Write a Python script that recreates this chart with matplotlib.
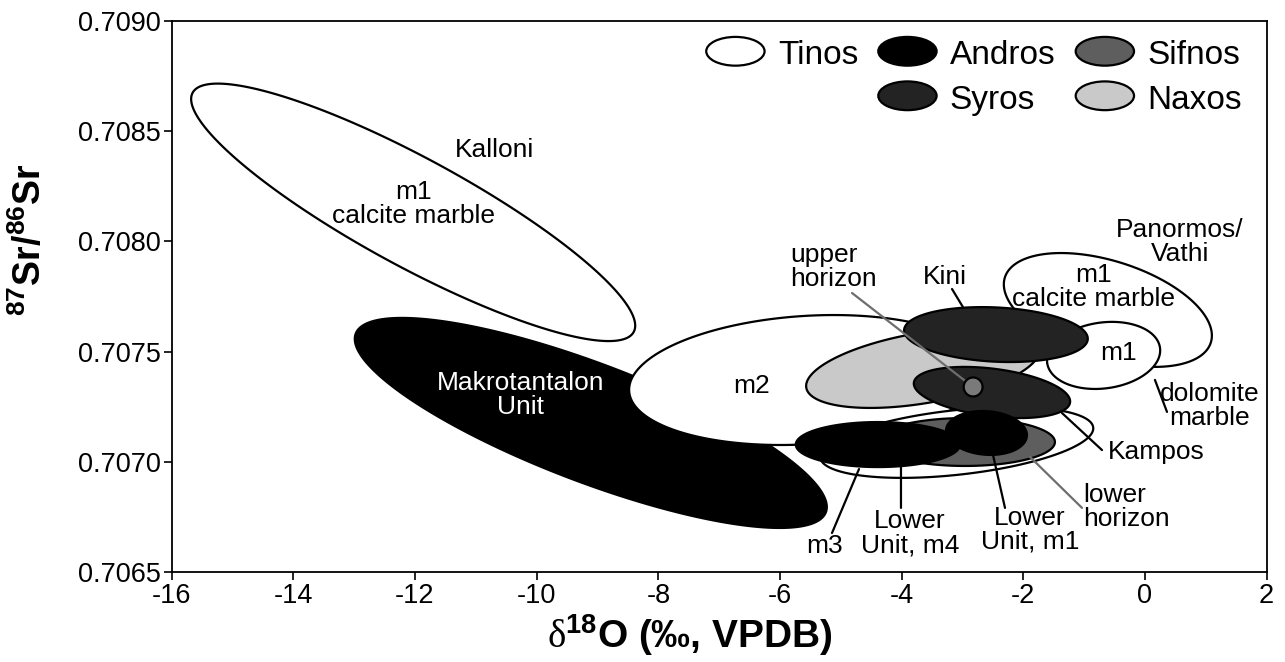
import numpy as np
import matplotlib.pyplot as plt
from matplotlib.patches import Patch, Ellipse
from matplotlib.legend_handler import HandlerPatch

plt.rcParams['font.family'] = ['Liberation Sans', 'DejaVu Sans']
plt.rcParams['axes.unicode_minus'] = False
plt.rcParams['mathtext.fontset'] = 'custom'
plt.rcParams['mathtext.rm'] = 'Liberation Serif'
plt.rcParams['mathtext.bf'] = 'Liberation Sans:bold'

# marble fields, in drawing order: d18O range, 87Sr/86Sr range and tilt (correlation)
units = ['Kalloni m1 calcite', 'Makrotantalon Unit', 'm2', 'm3', 'Naxos',
         'Panormos m1 calcite', 'Panormos m1 dolomite', 'Kini', 'Kampos',
         'lower horizon', 'Lower Unit m4', 'Lower Unit m1', 'upper horizon']
island = ['Tinos', 'Andros', 'Tinos', 'Tinos', 'Naxos',
          'Tinos', 'Tinos', 'Syros', 'Syros',
          'Sifnos', 'Andros', 'Andros', 'Sifnos']
d18o_lo = [-15.68, -12.99, -8.48, -5.34, -5.57, -2.32, -1.61, -3.96, -3.80, -4.44, -5.74, -3.27, -2.98]
d18o_hi = [-8.38, -5.23, -2.63, -0.85, -1.73, 1.10, 0.25, -0.94, -1.23, -1.48, -3.04, -1.94, -2.67]
sr_lo = [0.707548, 0.706701, 0.707077, 0.706928, 0.707245, 0.707431, 0.707331,
         0.707453, 0.707199, 0.706982, 0.706977, 0.707032, 0.707297]
sr_hi = [0.708715, 0.707653, 0.707666, 0.707249, 0.707607, 0.707947, 0.707635,
         0.707702, 0.707431, 0.707199, 0.707181, 0.707231, 0.707383]
tilt = [-0.88, -0.80, 0.15, 0.40, 0.45, -0.45, 0.15, -0.15, -0.35, 0.0, 0.0, -0.10, 0.0]

legend_order = ['Tinos', '', 'Andros', 'Syros', 'Sifnos', 'Naxos']
colours = {'Tinos': 'white', 'Andros': 'black', 'Sifnos': '#5e5e5e',
           'Syros': '#232323', 'Naxos': '#c9c9c9'}


def ellipse_xy(xlo, xhi, ylo, yhi, r, n=300):
    t = np.linspace(0, 2 * np.pi, n)
    cx, sx = (xlo + xhi) / 2, (xhi - xlo) / 2
    cy, sy = (ylo + yhi) / 2, (yhi - ylo) / 2
    return cx + sx * np.cos(t), cy + sy * (r * np.cos(t) + np.sqrt(1 - r * r) * np.sin(t))


class HandlerEllipse(HandlerPatch):
    def create_artists(self, legend, orig_handle, xdescent, ydescent, width, height, fontsize, trans):
        center = 0.5 * width - 0.5 * xdescent, 0.5 * height - 0.5 * ydescent
        p = Ellipse(xy=center, width=width, height=height)
        self.update_prop(p, orig_handle, legend)
        p.set_transform(trans)
        return [p]


fig = plt.figure(figsize=(12.85, 6.62), dpi=100)
ax = fig.add_axes([0.1336, 0.1355, 0.8521, 0.8332])

for i in range(len(units)):
    x, y = ellipse_xy(d18o_lo[i], d18o_hi[i], sr_lo[i], sr_hi[i], tilt[i])
    fc = colours[island[i]]
    if units[i] == 'upper horizon':
        fc = '#7a7a7a'
    ax.fill(x, y, facecolor=fc, edgecolor='black', lw=1.6, zorder=40 if units[i] == 'upper horizon' else 2 + i)

# leader lines (from label to field)
leaders = [
    ((-4.816, 0.707766), (-2.827, 0.707340), '#6e6e6e'),
    ((-3.172, 0.707784), (-2.992, 0.707702), 'black'),
    ((-1.364, 0.707222), (-0.706, 0.707054), 'black'),
    ((0.164, 0.707372), (0.362, 0.707227), 'black'),
    ((-1.890, 0.707023), (-1.035, 0.706792), '#6e6e6e'),
    ((-2.498, 0.707032), (-2.301, 0.706792), 'black'),
    ((-4.011, 0.706977), (-4.011, 0.706792), 'black'),
    ((-4.701, 0.706968), (-5.145, 0.706678), 'black'),
]
for a, b, c in leaders:
    ax.annotate('', xy=b, xytext=a, zorder=30,
                arrowprops=dict(arrowstyle='-', color=c, lw=1.6, shrinkA=0, shrinkB=0))

labels = [
    ('Kalloni', -10.70, 0.708414, 'center', 'black'),
    ('m1\ncalcite marble', -12.02, 0.708169, 'center', 'black'),
    ('Makrotantalon\nUnit', -10.27, 0.707304, 'center', 'white'),
    ('m2', -6.46, 0.707344, 'center', 'black'),
    ('upper\nhorizon', -5.836, 0.707886, 'left', 'black'),
    ('Kini', -3.288, 0.707838, 'center', 'black'),
    ('Panormos/\nVathi', 0.576, 0.707995, 'center', 'black'),
    ('m1\ncalcite marble', -0.838, 0.707795, 'center', 'black'),
    ('m1', -0.443, 0.707494, 'center', 'black'),
    ('dolomite\nmarble', 1.069, 0.707254, 'center', 'black'),
    ('Kampos', -0.608, 0.707045, 'left', 'black'),
    ('lower\nhorizon', -1.019, 0.706794, 'left', 'black'),
    ('Lower\nUnit, m1', -1.890, 0.706692, 'center', 'black'),
    ('Lower\nUnit, m4', -3.863, 0.706676, 'center', 'black'),
    ('m3', -5.260, 0.706619, 'center', 'black'),
]
for txt, x, y, ha, c in labels:
    ax.text(x, y, txt, ha=ha, va='center', multialignment='center' if ha == 'center' else 'left',
            fontsize=19, color=c, linespacing=1.0, zorder=50)

ax.set_xlim(-16, 2)
ax.set_ylim(0.7065, 0.7090)
ax.set_xticks(range(-16, 3, 2))
ax.set_yticks([0.7065, 0.7070, 0.7075, 0.7080, 0.7085, 0.7090])
ax.set_yticklabels(['%.4f' % v for v in ax.get_yticks()])
ax.tick_params(direction='out', length=6, width=1.2, labelsize=19.5, pad=2)
for s in ax.spines.values():
    s.set_linewidth(1.3)

ax.set_xlabel(r'$\mathrm{\delta}^{\mathbf{18}}$O (‰, VPDB)', fontsize=28, fontweight='bold')
ax.set_ylabel(r'$^{\mathbf{87}}$Sr/$^{\mathbf{86}}$Sr', fontsize=27, fontweight='bold')
ax.xaxis.set_label_coords(0.4734, -0.072)
ax.yaxis.set_label_coords(-0.112, 0.602)

handles = []
for name in legend_order:
    if name:
        handles.append(Patch(facecolor=colours[name], edgecolor='black', lw=1.6))
    else:
        handles.append(Patch(facecolor='none', edgecolor='none'))
ax.legend(handles, legend_order, ncol=3, loc='upper right', bbox_to_anchor=(0.9775, 0.968),
          frameon=False, fontsize=24, handlelength=1.75, handleheight=0.95, handletextpad=0.4,
          columnspacing=0.6, labelspacing=0.35, borderpad=0, borderaxespad=0,
          handler_map={Patch: HandlerEllipse()})

fig.savefig('out.png', dpi=100)
